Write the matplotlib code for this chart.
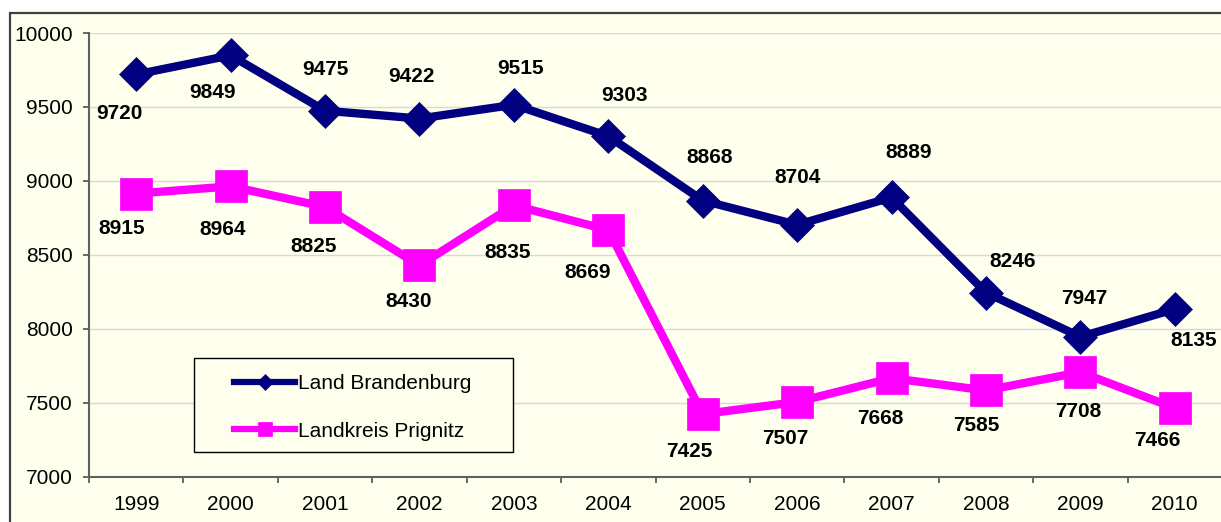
import matplotlib.pyplot as plt
from matplotlib.patches import Rectangle

plt.rcParams['font.family'] = ['Liberation Sans', 'DejaVu Sans']

# Daten
jahre = ['1999', '2000', '2001', '2002', '2003', '2004', '2005', '2006', '2007', '2008', '2009', '2010']
brandenburg = [9720, 9849, 9475, 9422, 9515, 9303, 8868, 8704, 8889, 8246, 7947, 8135]
prignitz = [8915, 8964, 8825, 8430, 8835, 8669, 7425, 7507, 7668, 7585, 7708, 7466]

# Lage der Beschriftungen (Pixel relativ zum Punkt)
off_brandenburg = [(-17, -39), (-18, -37), (0, 41), (-8, 42), (7, 36), (16, 41),
                   (7, 43), (0, 47), (17, 45), (27, 31), (4, 38), (19, -31)]
off_prignitz = [(-15, -35), (-8, -43), (-11, -40), (-11, -36), (-6, -47), (-21, -43),
                (-13, -37), (-12, -37), (-11, -40), (-10, -35), (-2, -39), (-17, -32)]

creme = '#FFFFEE'
W, H = 1221, 522
fig = plt.figure(figsize=(W / 100, H / 100), dpi=100, facecolor='white')

# Diagrammbereich mit Rahmen (rechts und unten abgeschnitten)
fig.patches.append(Rectangle((10 / W, -6 / H), (W - 4) / W, (H - 7) / H, transform=fig.transFigure,
                             facecolor=creme, edgecolor='#404040', linewidth=1.6, zorder=-1))

ax = fig.add_axes([89 / W, 45 / H, 1133 / W, 444 / H])
ax.set_facecolor(creme)

x = range(len(jahre))
ax.plot(x, brandenburg, color='#000080', linewidth=6, marker='D', markersize=17,
        markeredgewidth=0.5, label='Land Brandenburg', zorder=3)
ax.plot(x, prignitz, color='#FF00FF', linewidth=6, marker='s', markersize=23,
        markeredgewidth=0.5, label='Landkreis Prignitz', zorder=3)

for i, v in enumerate(brandenburg):
    ax.annotate(str(v), (i, v), xytext=off_brandenburg[i], textcoords='offset pixels',
                ha='center', va='center', fontsize=15, fontweight='bold', zorder=4)
for i, v in enumerate(prignitz):
    ax.annotate(str(v), (i, v), xytext=off_prignitz[i], textcoords='offset pixels',
                ha='center', va='center', fontsize=15, fontweight='bold', zorder=4)

# Achsen
ax.set_xlim(-0.5, len(jahre) - 0.5)
ax.set_ylim(7000, 10000)
ax.set_yticks(range(7000, 10001, 500))
ax.set_xticks(list(x))
ax.set_xticklabels(jahre)
ax.set_xticks([i - 0.5 for i in range(len(jahre) + 1)], minor=True)
ax.tick_params(axis='x', which='major', length=0, pad=13, labelsize=15)
ax.tick_params(axis='x', which='minor', length=4.5, width=1.2, color='#505050')
ax.tick_params(axis='y', length=4.5, width=1.2, color='#505050', pad=7, labelsize=15)
ax.yaxis.grid(True, color='#D8D8D8', linewidth=1)
ax.set_axisbelow(True)
for s in ['top', 'right']:
    ax.spines[s].set_visible(False)
for s in ['left', 'bottom']:
    ax.spines[s].set_color('#606060')
    ax.spines[s].set_linewidth(1.5)

# Legende
ax.add_patch(Rectangle((194 / W, (H - 452) / H), 319 / W, 94 / H, transform=fig.transFigure,
                       facecolor=creme, edgecolor='black', linewidth=1, zorder=5, clip_on=False))
leg = ax.legend(loc='upper left', bbox_to_anchor=(224 / W, (H - 364) / H), bbox_transform=fig.transFigure,
                frameon=False, fontsize=15, borderpad=0, handlelength=2.9, handletextpad=0.15,
                labelspacing=1.35, markerscale=0.45)
leg.set_zorder(6)
for h in leg.legend_handles:
    h.set_linewidth(4.5)

plt.savefig('out.png', dpi=100, facecolor=fig.get_facecolor())
